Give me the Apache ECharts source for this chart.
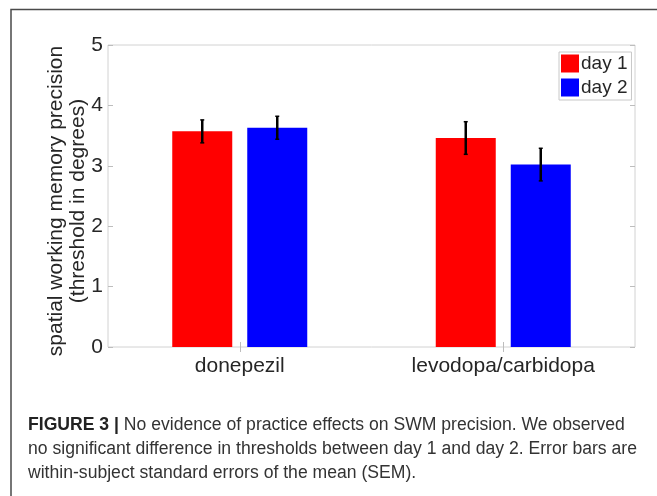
<!DOCTYPE html>
<html>
<head>
<meta charset="utf-8">
<script src="https://cdn.jsdelivr.net/npm/echarts@6/dist/echarts.min.js"></script>
<style>
html,body{margin:0;padding:0;background:#fff;}
#chart{width:657px;height:496px;}
</style>
</head>
<body>
<div id="chart"></div>
<script>
// ---- data ----
const categories = ['donepezil', 'levodopa/carbidopa'];
const seriesNames = ['day 1', 'day 2'];
const day1 = [3.57, 3.46];
const day2 = [3.63, 3.02];
const day1Err = [0.19, 0.27];
const day2Err = [0.19, 0.27];
const yTicks = [0, 1, 2, 3, 4, 5];
const yTitle = ['spatial working memory precision', '(threshold in degrees)'];
const captionBold = 'FIGURE 3 | ';
const captionLines = [
  'No evidence of practice effects on SWM precision. We observed',
  'no significant difference in thresholds between day 1 and day 2. Error bars are',
  'within-subject standard errors of the mean (SEM).'
];

// ---- style ----
const FONT = 'Liberation Sans, Arial, sans-serif';
const TXT = '#262626';
const BAR_W = 60;
const BAR_GAP = 15;

const chart = echarts.init(document.getElementById('chart'), null, {renderer: 'canvas'});

function errSeries(vals, errs, offset) {
  return {
    type: 'custom',
    xAxisIndex: 0, yAxisIndex: 0,
    z: 10,
    silent: true,
    data: vals.map((v, i) => [i, v - errs[i], v + errs[i]]),
    renderItem: function (params, api) {
      const lo = api.coord([api.value(0), api.value(1)]);
      const hi = api.coord([api.value(0), api.value(2)]);
      const x = lo[0] + offset;
      const st = {stroke: '#000', lineWidth: 2.5};
      return {
        type: 'group',
        children: [
          {type: 'line', shape: {x1: x, y1: lo[1], x2: x, y2: hi[1]}, style: st},
          {type: 'line', shape: {x1: x - 2, y1: lo[1], x2: x + 2, y2: lo[1]}, style: {stroke: '#000', lineWidth: 1.5}},
          {type: 'line', shape: {x1: x - 2, y1: hi[1], x2: x + 2, y2: hi[1]}, style: {stroke: '#000', lineWidth: 1.5}}
        ]
      };
    }
  };
}

const half = (BAR_W + BAR_GAP) / 2;

const option = {
  animation: false,
  textStyle: {fontFamily: FONT},
  grid: {left: 108, right: 22, top: 45, bottom: 149, show: true, borderColor: '#d2d2d2', borderWidth: 1, backgroundColor: 'transparent'},
  legend: {
    data: seriesNames,
    orient: 'vertical',
    left: 559, top: 52,
    itemWidth: 18, itemHeight: 18, itemGap: 5,
    padding: [2, 4, 3, 2],
    borderColor: '#c8c8c8', borderWidth: 1,
    icon: 'rect',
    textStyle: {fontSize: 19, color: TXT, fontFamily: FONT, padding: [0, 0, 0, -3]}
  },
  xAxis: [
    {
      type: 'category', data: categories, position: 'bottom',
      axisLine: {show: false},
      axisTick: {show: true, inside: true, alignWithLabel: true, length: 5, lineStyle: {color: '#bdbdbd'}},
      axisLabel: {fontSize: 21, color: TXT, margin: 9, fontFamily: FONT},
      splitLine: {show: false}
    },
    {
      type: 'category', data: categories, position: 'top',
      axisLine: {show: false},
      axisTick: {show: true, inside: true, alignWithLabel: true, length: 5, lineStyle: {color: '#bdbdbd'}},
      axisLabel: {show: false},
      splitLine: {show: false}
    }
  ],
  yAxis: [
    {
      type: 'value', min: yTicks[0], max: yTicks[yTicks.length - 1], interval: 1, position: 'left',
      axisLine: {show: false},
      axisTick: {show: true, inside: true, length: 5, lineStyle: {color: '#bdbdbd'}},
      axisLabel: {fontSize: 21, color: TXT, margin: 5, fontFamily: FONT},
      splitLine: {show: false},
      name: yTitle.join('\n'),
      nameLocation: 'middle',
      nameRotate: 90,
      nameGap: 19,
      nameMoveOverlap: false,
      nameTextStyle: {fontSize: 21, color: TXT, lineHeight: 22, fontFamily: FONT, padding: [0, 10, 0, 0]}
    },
    {
      type: 'value', min: yTicks[0], max: yTicks[yTicks.length - 1], interval: 1, position: 'right',
      axisLine: {show: false},
      axisTick: {show: true, inside: true, length: 5, lineStyle: {color: '#bdbdbd'}},
      axisLabel: {show: false},
      splitLine: {show: false}
    }
  ],
  series: [
    {name: seriesNames[0], type: 'bar', data: day1, barWidth: BAR_W, barGap: (BAR_GAP / BAR_W * 100) + '%', itemStyle: {color: '#ff0000'}, xAxisIndex: 0, yAxisIndex: 0},
    {name: seriesNames[1], type: 'bar', data: day2, barWidth: BAR_W, barGap: (BAR_GAP / BAR_W * 100) + '%', itemStyle: {color: '#0000ff'}, xAxisIndex: 0, yAxisIndex: 0},
    errSeries(day1, day1Err, -half),
    errSeries(day2, day2Err, half)
  ],
  graphic: [
    {
      type: 'polyline', silent: true,
      shape: {points: [[11, 496], [11, 9.5], [657, 9.5]]},
      style: {stroke: '#4a4a4a', lineWidth: 1.5, fill: null}
    },
    {
      type: 'text', left: 28, top: 413, silent: true,
      style: {
        text: '{b|' + captionBold + '}' + captionLines[0] + '\n' + captionLines[1] + '\n' + captionLines[2],
        fontFamily: FONT, fontSize: 17.6, lineHeight: 24, fill: '#333',
        rich: {b: {fontWeight: 'bold', fontSize: 17.6, fontFamily: FONT, fill: '#222', lineHeight: 24}}
      }
    }
  ]
};

chart.setOption(option);
</script>
</body>
</html>
